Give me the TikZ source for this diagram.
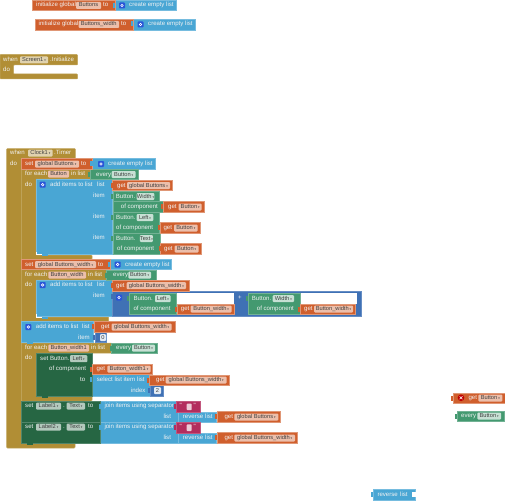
\documentclass[tikz,border=0pt]{standalone}
\usepackage{fontspec}
\setmainfont{Liberation Sans}
\newfontfamily\ddfont{DejaVu Sans}
\newcommand{\dd}{\,{\ddfont\fontsize{3}{4}\selectfont ▾}}

\definecolor{varorange}{HTML}{D05F2D}
\definecolor{listblue}{HTML}{49A6D4}
\definecolor{ctrlgold}{HTML}{B18E35}
\definecolor{compgreen}{HTML}{439970}
\definecolor{setgreen}{HTML}{266643}
\definecolor{mathblue}{HTML}{3F71B5}
\definecolor{textpink}{HTML}{B32D5E}
\definecolor{iconblue}{HTML}{2A55D8}

\begin{document}
\begin{tikzpicture}[
    x=1pt, y=-1pt,
    block/.style={anchor=north west, inner sep=0pt, outer sep=0pt, line width=0.5pt},
    varblock/.style={block, fill=varorange, draw=varorange!65!white},
    listblock/.style={block, fill=listblue, draw=listblue!75!white},
    compblock/.style={block, fill=compgreen, draw=compgreen!75!white},
    setblock/.style={block, fill=setgreen, draw=setgreen!80!white},
    mathblock/.style={block, fill=mathblue, draw=mathblue!80!white},
    textblock/.style={block, fill=textpink, draw=textpink!80!white},
    ctrl/.style={fill=ctrlgold, draw=ctrlgold!80!white, line width=0.5pt, rounded corners=0.8pt},
    lab/.style={anchor=west, inner sep=0pt, text height=4.3pt, text depth=1.3pt, text=white!95!black, font=\fontsize{6.1}{7}\selectfont},
    field/.style={inner sep=0pt, minimum height=7pt, text height=4.2pt, text depth=1.2pt, rounded corners=1pt, text=black!75, font=\fontsize{5.7}{7}\selectfont},
    varfield/.style={field, fill=varorange!40!white},
    ctrlfield/.style={field, fill=ctrlgold!40!white},
    compfield/.style={field, fill=compgreen!30!white},
    setfield/.style={field, fill=setgreen!35!white},
    numfield/.style={field, fill=white!85!mathblue}
]
\useasboundingbox (0,0) rectangle (505,500);

% Control blocks
\foreach \xa/\ya/\xh/\yh/\xi/\yi/\xb/\yb in {
    0/54.5/77.5/65/13.5/74/77.5/79,
    6.7/148.5/75.3/158.7/21.3/443.3/75/448,
    21.3/169/92/179/36/255/92/259.3,
    21.3/269.7/106.7/280/36/317/108.7/321.7,
    21.3/343/111.7/353/36/396/92/401}
    \draw[ctrl] (\xa,\ya) -- (\xh,\ya) -- (\xh,\yh) -- (\xi,\yh) -- (\xi,\yi) -- (\xb,\yi) -- (\xb,\yb) -- (\xa,\yb) -- cycle;

% List blocks
\foreach \nm/\xa/\ya/\xb/\yb in {
    listA/115/0.5/176.5/10.5, listB/133/19/195/30,
    listC/92.5/158.7/155/169, listD/110/259.3/171.7/269.7,
    addA/36/179/112.7/254.3, addB/36/280/112.7/316.7, addC/21.3/321.7/93.3/342.3,
    select/92.3/374.3/150/396,
    joinA/100.7/401/178.3/422.3, joinB/100.7/422.3/178.3/443.3,
    revA/178/412/216.7/422.3, revB/178/433/216.7/443.3, revC/373.3/489.3/415/500}
    \node[listblock, minimum width={\xb-\xa}, minimum height={\yb-\ya}] (\nm) at (\xa,\ya) {};

% Math and number blocks
\foreach \nm/\xa/\ya/\xb/\yb in {
    sum/112.7/291/361.7/316, numA/95/332.7/106.7/342.7, numB/150/385.3/163.3/396}
    \node[mathblock, minimum width={\xb-\xa}, minimum height={\yb-\ya}] (\nm) at (\xa,\ya) {};

% Empty sockets
\fill[white] (176.7,293.3) rectangle (234,304);
\fill[white] (300,293.3) rectangle (357.3,304);
\fill[white] (411.7,492) rectangle (415.5,497);

% Component blocks
\foreach \nm/\xa/\ya/\xb/\yb in {
    everyA/90/169.5/138.5/179.5, everyB/106.7/270/156.7/280,
    everyC/111.7/343/157.7/353, everyD/457.3/411/504/421,
    widthA/113/191/159.3/201.7, ofA/113/201.7/163/212,
    leftA/113/212/159.5/233, textA/113/233/160.7/254,
    leftB/129.3/293.3/176.5/314.3, widthB/248.3/293.3/300/314.3}
    \node[compblock, minimum width={\xb-\xa}, minimum height={\yb-\ya}] (\nm) at (\xa,\ya) {};

% Setter blocks
\foreach \nm/\xa/\ya/\xb/\yb in {
    setLeft/36/353/92.3/396, setLabA/21.3/401/100.7/422.3, setLabB/21.3/422.3/100.7/443.3}
    \node[setblock, minimum width={\xb-\xa}, minimum height={\yb-\ya}] (\nm) at (\xa,\ya) {};

% Variable blocks
\foreach \nm/\xa/\ya/\xb/\yb in {
    initA/32.5/0.5/115/10.5, initB/35/19/133/30,
    setA/21.3/158.7/92.5/169, setB/21.3/259.3/110/269.7,
    getA/112.7/180/172.7/190.7, getB/163/201.7/204.3/212,
    getC/160/222.7/200/233, getD/160.7/243.7/201/254,
    getE/112.7/280.7/189.3/291, getF/177/304/234.3/314.3,
    getG/300/304/355.7/314.3, getH/94.3/321.7/175/332,
    getI/92.3/364.3/152.7/374.3, getJ/149/375/229.3/385,
    getK/217/411.7/280.7/422.3, getL/217/432.7/297.3/443.3,
    getM/453.3/393/505/403.3}
    \node[varblock, minimum width={\xb-\xa}, minimum height={\yb-\ya}] (\nm) at (\xa,\ya) {};

% Text blocks
\foreach \nm/\ya/\yb in {strA/401.7/412, strB/422.5/433} {
    \node[textblock, minimum width=24pt, minimum height={\yb-\ya}] (\nm) at (176,\ya) {};
    \node[lab] (\nm l) at (179.5,\ya+4.5) {\textquotedbl};
    \node[lab] (\nm r) at (193.5,\ya+4.5) {\textquotedbl};
    \fill[white!75!textpink, rounded corners=0.8pt] (186.7,\ya+1.8) rectangle (191.7,\ya+8.5);
}

% Output tabs
\foreach \xt/\yt in {112.7/180, 163/201.7, 160/222.7, 160.7/243.7, 112.7/280.7, 177/304, 300/304,
    94.3/321.7, 92.3/364.3, 149/375, 217/411.7, 217/432.7, 453.3/393}
    \fill[varorange] (\xt-2.2,\yt+2.5) rectangle (\xt,\yt+7.5);
\foreach \xt/\yt in {115/0.5, 133/19, 92.5/158.7, 110/259.3, 92.3/374.3, 100.7/401, 100.7/422.3,
    178/412, 178/433, 373.3/489.3}
    \fill[listblue] (\xt-2.2,\yt+2.5) rectangle (\xt,\yt+7.5);
\foreach \xt/\yt in {90/169.5, 106.7/270, 111.7/343, 457.3/411, 113/191, 113/212, 113/233, 129.3/293.3, 248.3/293.3}
    \fill[compgreen] (\xt-2.2,\yt+2.5) rectangle (\xt,\yt+7.5);
\foreach \xt/\yt in {95/332.7, 150/385.3, 112.7/291}
    \fill[mathblue] (\xt-2.2,\yt+2.5) rectangle (\xt,\yt+7.5);
\foreach \xt/\yt in {176/401.7, 176/422.5}
    \fill[textpink] (\xt-2.2,\yt+2.5) rectangle (\xt,\yt+7.5);

% Statement bumps
\foreach \xt/\yt in {42/254.3, 42/316.7, 27/342.3}
    \fill[listblue] (\xt,\yt) rectangle (\xt+6,\yt+1.8);
\foreach \xt/\yt in {42/396, 27/443.3}
    \fill[setgreen] (\xt,\yt) rectangle (\xt+6,\yt+1.8);
\foreach \xt/\yt in {36.5/254.5, 36.5/316.9}
    \draw[white, line width=0.7pt] (\xt,\yt-2.5) -- (\xt,\yt) -- (\xt+5,\yt);

% Mutator icons
\foreach \xc/\yc in {122/5.5, 140.5/24.5, 101/164, 117.7/264.5, 42.7/184.7, 42.7/285, 28.3/327, 119/297.5} {
    \fill[iconblue, rounded corners=0.8pt] (\xc-3,\yc-3) rectangle (\xc+3,\yc+3);
    \draw[white, line width=0.6pt] (\xc,\yc) circle (1.3);
}

% Warning mark
\fill[red!75!black] (461,397.8) circle (3.3);
\draw[white, line width=0.6pt] (459.6,396.4) -- (462.4,399.2) (462.4,396.4) -- (459.6,399.2);

% Labels
\foreach \nm/\x/\y/\lbl in {
    labInitA/36/5.5/initialize global, labToA/103/5.5/to, labListA/129/5.5/create empty list,
    labInitB/38.5/24.5/initialize global, labToB/121/24.5/to, labListB/148/24.5/create empty list,
    labWhenS/3/60/when, labInitS/50/60/.Initialize, labDoS/3/70/do,
    labWhenC/10/153/when, labTimer/54/153/.Timer, labDoC/10/163.5/do,
    labSetA/25/164/set, labToC/81/164/to, labListC/108/164/create empty list,
    labForA/25/174/for each, labInA/71/174/in list, labEvA/96/174.5/every, labDoA/25/184.5/do,
    labAddA/50/184.7/add items to list, labLsA/97/184.7/list,
    labItA/93/195.5/item, labItB/93/216.7/item, labItC/93/237.7/item,
    labGetA/117/185.5/get, labBtA/115.7/196.5/Button., labOfA/120.7/207/of component, labGetB/168/207/get,
    labBtB/116/217.5/Button., labOfB/116/228/of component, labGetC/163.3/228/get,
    labBtC/116/238.5/Button., labOfC/117/249/of component, labGetD/164/249/get,
    labSetB/25/264.5/set, labToD/98/264.5/to, labListD/125/264.5/create empty list,
    labForB/25/275/for each, labInB/88/275/in list, labEvB/113/275/every, labDoB/25/285/do,
    labAddB/50/285.3/add items to list, labLsB/97/285.3/list, labItD/93/295.5/item,
    labGetE/116/285.7/get, labBtD/133.3/298.7/Button., labOfD/133.3/309/of component,
    labGetF/180.7/309/get, labPlus/237.8/297.7/+, labBtE/251.7/298.7/Button.,
    labOfE/256.7/309/of component, labGetG/304/309/get,
    labAddC/35.7/327/add items to list, labLsC/82/327/list, labItE/78/337.5/item, labGetH/101/327/get,
    labForC/25/348/for each, labInC/91/348/in list, labEvC/116/348/every, labDoC2/25/358.3/do,
    labSetC/40/358.7/set Button., labOfF/49/369/of component, labToE/80/380/to,
    labGetI/96.5/369/get, labSel/96.7/380/select list item, labLsD/137/380/list,
    labIdx/130.7/390.5/index, labGetJ/156/380/get,
    labSetD/25/406/set, labDotA/63/406/., labToF/88/406/to,
    labJoinA/104.3/406/join items using separator, labLsE/163.3/417/list,
    labRevA/182.7/417/reverse, labLsF/205/417/list, labGetK/224.3/417/get,
    labSetE/25/427/set, labDotB/63/427/., labToG/88/427/to,
    labJoinB/104.3/427/join items using separator, labLsG/163.3/438/list,
    labRevB/182.7/438/reverse, labLsH/205/438/list, labGetL/224.3/438/get,
    labGetM/468.3/398/get, labEvD/461/416/every, labRevC/377.3/494.7/reverse, labLsI/400/494.7/list}
    \node[lab] (\nm) at (\x,\y) {\lbl};

% Fields
\foreach \st/\nm/\xa/\xb/\y/\lbl in {
    varfield/fdA/76/101/5.5/Buttons,
    varfield/fdB/78.5/119/24.5/Buttons\_width,
    ctrlfield/fdScreen/20/48/60/Screen1\dd,
    ctrlfield/fdClock/28/52.7/153/Clock1\dd,
    varfield/fdC/35/79/164/global Buttons\dd,
    varfield/fdLoopA/48/69/174/Button,
    compfield/fdEvA/111.7/135.7/174.5/Button\dd,
    varfield/fdD/127/170/185.5/global Buttons\dd,
    compfield/fdWidthA/136.7/154.3/196.5/Width\dd,
    varfield/fdE/178.7/201.7/207/Button\dd,
    compfield/fdLeftA/136.7/153.3/217.5/Left\dd,
    varfield/fdF/174/197.7/228/Button\dd,
    compfield/fdTextA/140/152.7/238.5/Text\dd,
    varfield/fdG/174.7/198.7/249/Button\dd,
    varfield/fdH/35/96/264.5/global Buttons\_width\dd,
    varfield/fdLoopB/48.3/86/275/Button\_width,
    compfield/fdEvB/128.3/151/275/Button\dd,
    varfield/fdI/126.7/186/285.7/global Buttons\_width\dd,
    compfield/fdLeftB/155/170.7/298.7/Left\dd,
    varfield/fdJ/190.7/231.7/309/Button\_width\dd,
    compfield/fdWidthB/272.7/294/298.7/Width\dd,
    varfield/fdK/314/353/309/Button\_width\dd,
    varfield/fdL/111.7/171.7/327/global Buttons\_width\dd,
    numfield/fdNumA/100/106/337.7/0,
    varfield/fdLoopC/48.3/89/348/Button\_width1,
    compfield/fdEvC/132/155/348/Button\dd,
    setfield/fdLeftC/70/87.3/358.7/Left\dd,
    varfield/fdM/107.3/150.7/369/Button\_width1\dd,
    varfield/fdN/165.7/226.7/380/global Buttons\_width\dd,
    numfield/fdNumB/154/161/390.7/2,
    setfield/fdLabA/36/61/406/Label1\dd,
    setfield/fdTextB/66.7/85/406/Text\dd,
    setfield/fdLabB/36/61/427/Label2\dd,
    setfield/fdTextC/66.7/85/427/Text\dd,
    varfield/fdO/234.3/278.3/417/global Buttons\dd,
    varfield/fdP/234.3/295/438/global Buttons\_width\dd,
    varfield/fdQ/478.3/502.3/398/Button\dd,
    compfield/fdEvD/477.3/501/416/Button\dd}
    \node[\st, minimum width={\xb-\xa}] (\nm) at ({(\xa+\xb)/2},\y) {\lbl};

\end{tikzpicture}
\end{document}
